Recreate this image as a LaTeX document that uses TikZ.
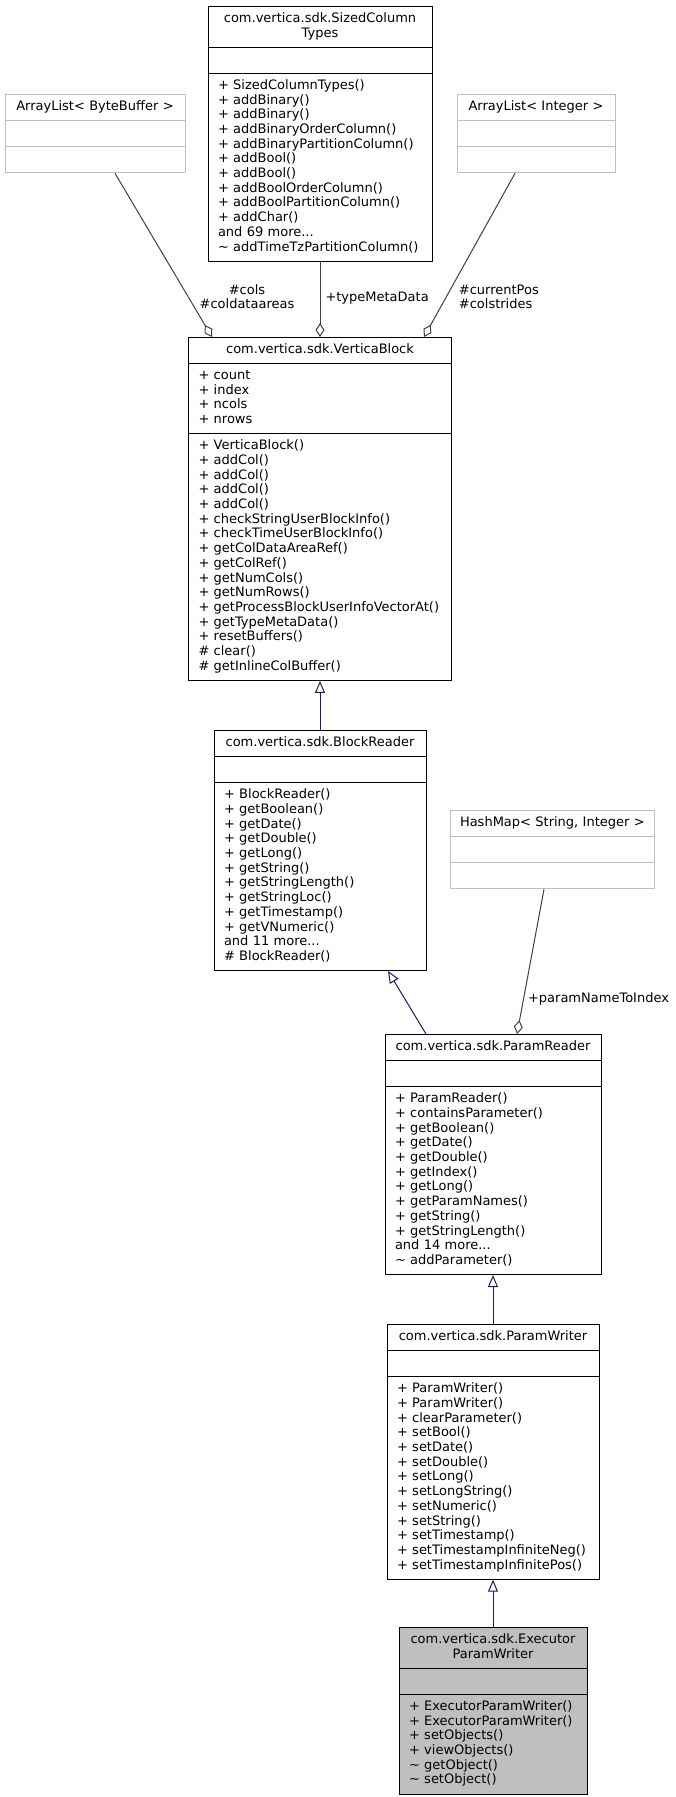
\documentclass[tikz,border=0pt]{standalone}
\usepackage{fontspec}
\setmainfont{DejaVu Sans}
\usetikzlibrary{shapes.multipart,positioning,arrows.meta}

\definecolor{edgegray}{HTML}{404040}
\definecolor{inhblue}{HTML}{191970}
\definecolor{extgray}{HTML}{BFBFBF}
\newcommand{\umlfont}{\fontsize{13}{14.7}\selectfont\parindent=0pt\hyphenpenalty=10000}
\newcommand{\ctitle}[1]{\hbox to\hsize{\hfil\strut#1\hfil}}

\begin{document}
\begin{tikzpicture}[x=1pt, y=-1pt, line width=1pt, every node/.style={font=\umlfont},
  class/.style={draw, rectangle split, rectangle split parts=3, inner xsep=10pt, inner ysep=5.2pt, anchor=north},
  extclass/.style={class, draw=extgray},
  agg/.style={draw=edgegray, -{Diamond[open, length=14pt, width=9pt]}},
  inh/.style={draw=inhblue, -{Triangle[open, length=12pt, width=10pt]}},
  lbl/.style={inner sep=0pt, anchor=west, align=left}]
\useasboundingbox (0,0) rectangle (675,1797);

\node[class, text width=204pt] (sct) at (320,6) {\ctitle{com.vertica.sdk.SizedColumn}\\\ctitle{Types}
  \nodepart{two}\strut
  \nodepart{three}\strut+~SizedColumnTypes()\\+~addBinary()\\+~addBinary()\\+~addBinaryOrderColumn()\\+~addBinaryPartitionColumn()\\+~addBool()\\+~addBool()\\+~addBoolOrderColumn()\\+~addBoolPartitionColumn()\\+~addChar()\\and~69~more...\\\textasciitilde~addTimeTzPartitionColumn()\strut};
\node[extclass, text width=160pt] (bb) at (95,94) {\ctitle{ArrayList<~ByteBuffer~>}
  \nodepart{two}\strut
  \nodepart{three}\strut};
\node[extclass, text width=138pt] (ai) at (536,94) {\ctitle{ArrayList<~Integer~>}
  \nodepart{two}\strut
  \nodepart{three}\strut};

\node[class, text width=243pt] (vb) at (320,337) {\ctitle{com.vertica.sdk.VerticaBlock}
  \nodepart{two}\strut+~count\\+~index\\+~ncols\\+~nrows\strut
  \nodepart{three}\strut+~VerticaBlock()\\+~addCol()\\+~addCol()\\+~addCol()\\+~addCol()\\+~checkStringUserBlockInfo()\\+~checkTimeUserBlockInfo()\\+~getColDataAreaRef()\\+~getColRef()\\+~getNumCols()\\+~getNumRows()\\+~getProcessBlockUserInfoVectorAt()\\+~getTypeMetaData()\\+~resetBuffers()\\\#~clear()\\\#~getInlineColBuffer()\strut};

\node[class, text width=192pt] (br) at (320,730) {\ctitle{com.vertica.sdk.BlockReader}
  \nodepart{two}\strut
  \nodepart{three}\strut+~BlockReader()\\+~getBoolean()\\+~getDate()\\+~getDouble()\\+~getLong()\\+~getString()\\+~getStringLength()\\+~getStringLoc()\\+~getTimestamp()\\+~getVNumeric()\\and~11~more...\\\#~BlockReader()\strut};
\node[extclass, text width=184pt] (hm) at (552,810) {\ctitle{HashMap<~String,~Integer~>}
  \nodepart{two}\strut
  \nodepart{three}\strut};

\node[class, text width=196pt] (pr) at (493,1034) {\ctitle{com.vertica.sdk.ParamReader}
  \nodepart{two}\strut
  \nodepart{three}\strut+~ParamReader()\\+~containsParameter()\\+~getBoolean()\\+~getDate()\\+~getDouble()\\+~getIndex()\\+~getLong()\\+~getParamNames()\\+~getString()\\+~getStringLength()\\and~14~more...\\\textasciitilde~addParameter()\strut};
\node[class, text width=192pt] (pw) at (493,1324) {\ctitle{com.vertica.sdk.ParamWriter}
  \nodepart{two}\strut
  \nodepart{three}\strut+~ParamWriter()\\+~ParamWriter()\\+~clearParameter()\\+~setBool()\\+~setDate()\\+~setDouble()\\+~setLong()\\+~setLongString()\\+~setNumeric()\\+~setString()\\+~setTimestamp()\\+~setTimestampInfiniteNeg()\\+~setTimestampInfinitePos()\strut};
\node[class, fill=extgray, text width=168pt] (ex) at (493,1627) {\ctitle{com.vertica.sdk.Executor}\\\ctitle{ParamWriter}
  \nodepart{two}\strut
  \nodepart{three}\strut+~ExecutorParamWriter()\\+~ExecutorParamWriter()\\+~setObjects()\\+~viewObjects()\\\textasciitilde~getObject()\\\textasciitilde~setObject()\strut};

\draw[agg] ([xshift=20pt]bb.south) -- node[lbl, pos=0.754, xshift=11pt, align=center]{\#cols\\\#coldataareas} ([xshift=-108pt]vb.north);
\draw[agg] (sct.south) -- node[lbl, pos=0.48, xshift=5pt]{+typeMetaData} (vb.north);
\draw[agg] ([xshift=-21pt]ai.south) -- node[lbl, pos=0.754, xshift=12pt]{\#currentPos\\\#colstrides} ([xshift=104pt]vb.north);
\draw[inh] (br.north) -- (vb.south);
\draw[inh] ([xshift=-67pt]pr.north) -- ([xshift=68pt]br.south);
\draw[agg] ([xshift=-8pt]hm.south) -- node[lbl, pos=0.757, xshift=4pt]{+paramNameToIndex} ([xshift=24pt]pr.north);
\draw[inh] (pw.north) -- (pr.south);
\draw[inh] (ex.north) -- (pw.south);
\end{tikzpicture}
\end{document}
